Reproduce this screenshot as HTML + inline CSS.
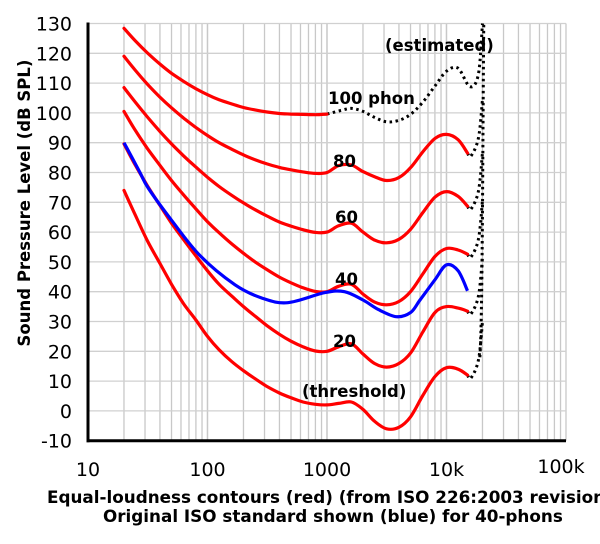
<!DOCTYPE html>
<html><head><meta charset="utf-8"><style>
body{margin:0;background:#fff}
svg text{font-family:"DejaVu Sans","Liberation Sans",sans-serif}
</style></head><body>
<svg id="c" width="600" height="539" viewBox="0 0 600 539"></svg>
<script>
const freqs=[20,25,31.5,40,50,63,80,100,125,160,200,250,315,400,500,630,800,1000,1250,1600,2000,2500,3150,4000,5000,6300,8000,10000,12500,15000];
const phon0=[74,65.5,57,49.5,42.5,36,30.5,25,20.5,16.5,13.5,10.8,8.2,6,4.4,3,2.2,2,2.5,3,0.5,-3.5,-6,-5.5,-2,5,11.5,14.5,14,12];
const phon20=[89.6,82.3,75.5,69,63,57.5,52,47,42.5,38.5,35,31.8,28.6,25.7,23.4,21.5,20.1,20.0,21.5,22.5,19.1,15.9,14.7,15.9,19.4,26.3,33,35,34.5,33.5];
const phon40=[100.5,94,88,82.4,77.3,72.5,67.8,63.5,59.8,56,52.9,50,47.4,44.9,43,41.3,40.1,40,41.8,42.5,39.2,36.5,35.6,36.7,40,45.8,51.8,54.5,54,52.6];
const phon60=[108.5,103.5,98.6,93.8,89.6,85.6,81.8,78.4,75.3,72.3,69.8,67.5,65.4,63.4,62,60.8,59.9,60,62.1,63,60,57.3,56.4,57.6,60.9,66.4,71.7,73.6,72,68.7];
const phon80=[119,114.2,109.6,105.3,101.7,98.3,95.1,92.4,90,87.8,85.9,84.3,82.9,81.7,80.9,80.2,79.7,80,82.3,82.5,80.3,78.6,77.3,78.3,81.6,86.8,91.4,92.8,91,86.5];
const freqs100=[20,25,31.5,40,50,63,80,100,125,160,200,250,315,400,500,630,800,1000];
const phon100=[128.4,124.1,120.1,116.4,113.3,110.6,108.1,106.1,104.4,103,101.8,101,100.3,99.8,99.6,99.5,99.4,99.6];
const est100F=[1000,1300,1600,2000,2500,3150,4000,5000,6300,8000,10000,12500,15700,18500,20000];
const est100V=[99.6,100.8,101.5,100.5,98.5,97,97.5,99.5,103.5,109,114,115,108.8,113,130];
const blueF=[20,27,32,50,87,170,284,470,960,1400,2000,2700,3800,5000,6000,8000,10000,12500,15000];
const blueV=[90,80.3,74.7,64,52,42.3,37.9,36.3,39.7,40,37.2,34,31.6,33,37.2,44,49,47,40.3];
const yTicks=[130,120,110,100,90,80,70,60,50,40,30,20,10,0,-10];
const xTicks=[10,100,1000,10000,100000];
const xTickLabels=["10","100","1000","10k","100k"];

const NS="http://www.w3.org/2000/svg",svg=document.getElementById('c');
const X0=88,DEC=119.5,Y0=410.9,DY=2.98;
const xs=f=>X0+DEC*Math.log10(f/10);
const ys=v=>Y0-DY*v;
function mk(t,a,p){const e=document.createElementNS(NS,t);for(const k in a)e.setAttribute(k,a[k]);(p||svg).appendChild(e);return e;}
function smooth(pts){let d="M"+pts[0][0].toFixed(1)+","+pts[0][1].toFixed(1);
 for(let i=0;i<pts.length-1;i++){const p0=pts[i-1]||pts[i],p1=pts[i],p2=pts[i+1],p3=pts[i+2]||p2;
  const c1=[p1[0]+(p2[0]-p0[0])/6,p1[1]+(p2[1]-p0[1])/6],c2=[p2[0]-(p3[0]-p1[0])/6,p2[1]-(p3[1]-p1[1])/6];
  d+="C"+c1.map(v=>v.toFixed(1))+" "+c2.map(v=>v.toFixed(1))+" "+p2[0].toFixed(1)+","+p2[1].toFixed(1);}
 return d;}
const g=mk('g',{});
for(let d=10;d<100000;d*=10)for(let m=1;m<=10;m++){const x=xs(d*m);const l=mk('line',{x1:x,x2:x,y1:ys(130),y2:ys(-10),stroke:'#c8c8c8','stroke-width':1.3},g);}
yTicks.forEach(v=>{const l=mk('line',{x1:X0,x2:xs(100000),y1:ys(v),y2:ys(v),stroke:'#d0d0d0','stroke-width':1.3},g);});
let ax=mk('line',{x1:X0,x2:X0,y1:ys(130)-1,y2:ys(-10)+1.5,stroke:'#000','stroke-width':3});
ax=mk('line',{x1:X0-1.5,x2:xs(100000),y1:ys(-10),y2:ys(-10),stroke:'#000','stroke-width':3});
yTicks.forEach(v=>{const t=mk('text',{x:72,y:ys(v)+7,'text-anchor':'end','font-size':19});t.textContent=v;});
xTicks.forEach((f,i)=>{const t=mk('text',{x:xs(f)+(i==4?-5:0),y:i==4?473:476,'text-anchor':'middle','font-size':19});t.textContent=xTickLabels[i];});
function dotted(F,V,name){const p=mk('path',{d:smooth(F.map((f,i)=>[xs(f),ys(V[i])])),fill:'none',stroke:'#000','stroke-width':3,'stroke-dasharray':'2.5,3.5'});}
dotted(est100F,est100V,'estimated-100-phon');
const ends=[phon0,phon20,phon40,phon60,phon80];
const vert=mk('path',{d:"M"+xs(19000)+","+ys(18)+"C"+xs(20000)+","+ys(30)+" "+xs(20000)+","+ys(80)+" "+xs(20500)+","+ys(130),fill:'none',stroke:'#000','stroke-width':3,'stroke-dasharray':'2.5,3.5'});

ends.forEach(a=>{const v=a[a.length-1];dotted([15000,16000,18500,20000],[v,v-1,v+5,v+18],'estimated-extension');});
[['threshold-curve',freqs,phon0],['20-phon-curve',freqs,phon20],['40-phon-curve',freqs,phon40],['60-phon-curve',freqs,phon60],['80-phon-curve',freqs,phon80],['100-phon-curve',freqs100,phon100]].forEach(([n,F,V])=>{
 const p=mk('path',{d:smooth(F.map((f,i)=>[xs(f),ys(V[i])])),fill:'none',stroke:'#f00','stroke-width':3.2,'stroke-linecap':'round'});});
const b=mk('path',{d:smooth(blueF.map((f,i)=>[xs(f),ys(blueV[i])])),fill:'none',stroke:'#00f','stroke-width':3.2});
[["100 phon",328,104],["80",333,167],["60",335,223],["40",335,285],["20",333,347],["(threshold)",302,397],["(estimated)",385,51]].forEach(([s,x,y])=>{const t=mk('text',{x:x,y:y,'font-size':16.5,'font-weight':'bold'});t.textContent=s;});
let t=mk('text',{x:0,y:0,'font-size':16.5,'font-weight':'bold','text-anchor':'middle',transform:'translate(30,203) rotate(-90)'});t.textContent="Sound Pressure Level (dB SPL)";
t=mk('text',{x:47,y:503,'font-size':16.8,'font-weight':'bold'});t.textContent="Equal-loudness contours (red) (from ISO 226:2003 revision)";
t=mk('text',{x:103,y:522,'font-size':16.8,'font-weight':'bold'});t.textContent="Original ISO standard shown (blue) for 40-phons";
</script>
</body></html>
